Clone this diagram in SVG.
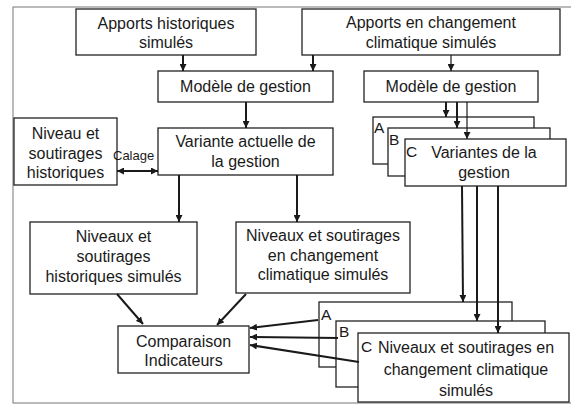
<svg xmlns="http://www.w3.org/2000/svg" width="571" height="405" viewBox="0 0 571 405">
<style>
.box{fill:#fff;stroke:#222;stroke-width:1.3}
.t{font-family:"Liberation Sans",Arial,sans-serif;font-size:16px;fill:#1a1a1a;text-anchor:middle}
.lbl{font-family:"Liberation Sans",Arial,sans-serif;font-size:15.5px;fill:#1a1a1a}
.small{font-family:"Liberation Sans",Arial,sans-serif;font-size:13px;fill:#1a1a1a}
.c{fill:none;stroke:#1a1a1a;stroke-width:2}
.thin{stroke-width:1.2}
.frame{fill:none;stroke:#777;stroke-width:1}
</style>
<defs>
<marker id="ah" viewBox="0 0 10 10" refX="10" refY="5" markerWidth="7" markerHeight="7" markerUnits="userSpaceOnUse" orient="auto-start-reverse">
<path d="M0,0 L10,5 L0,10 z" fill="#1a1a1a"/>
</marker>
</defs>
<rect class="frame" x="13" y="7" width="565" height="396"/>

<g id="apports-hist"><rect class="box" x="76" y="9" width="180" height="46"/>
<text class="t" x="166" y="29">Apports historiques</text><text class="t" x="166" y="48">simulés</text></g>

<g id="apports-cc"><rect class="box" x="302" y="9" width="258" height="46"/>
<text class="t" x="431" y="28">Apports en changement</text><text class="t" x="431" y="48">climatique simulés</text></g>

<g id="modele-gauche"><rect class="box" x="158" y="71" width="175" height="31"/>
<text class="t" x="245.5" y="92">Modèle de gestion</text></g>

<g id="modele-droite"><rect class="box" x="364" y="71" width="174" height="31"/>
<text class="t" x="451" y="92">Modèle de gestion</text></g>

<g id="variante-actuelle"><rect class="box" x="158" y="128" width="175" height="47"/>
<text class="t" x="245.5" y="147">Variante actuelle de</text><text class="t" x="245.5" y="167">la gestion</text></g>

<g id="niveau-hist"><rect class="box" x="14" y="118" width="103" height="67"/>
<text class="t" x="65.5" y="139">Niveau et</text><text class="t" x="65.5" y="159">soutirages</text><text class="t" x="65.5" y="178">historiques</text></g>

<g id="variantes-stack">
<rect class="box" x="373" y="117" width="161" height="47"/>
<text class="lbl" x="374" y="133">A</text>
<rect class="box" x="388" y="128" width="162" height="48"/>
<text class="lbl" x="389" y="145">B</text>
<rect class="box" x="405" y="139" width="161" height="47"/>
<text class="lbl" x="406" y="157">C</text>
<text class="t" x="484" y="158">Variantes de la</text><text class="t" x="484" y="178">gestion</text>
</g>

<g id="niveaux-hist-sim"><rect class="box" x="30" y="222" width="167" height="72"/>
<text class="t" x="113.5" y="242">Niveaux et</text><text class="t" x="113.5" y="262">soutirages</text><text class="t" x="113.5" y="282">historiques simulés</text></g>

<g id="niveaux-cc-sim"><rect class="box" x="236" y="222" width="174" height="71"/>
<text class="t" x="323" y="241">Niveaux et soutirages</text><text class="t" x="323" y="261">en changement</text><text class="t" x="323" y="280">climatique simulés</text></g>

<g id="comparaison"><rect class="box" x="118" y="326" width="131" height="47"/>
<text class="t" x="183.5" y="347">Comparaison</text><text class="t" x="183.5" y="366">Indicateurs</text></g>

<g id="niveaux-stack">
<rect class="box" x="319" y="302" width="193" height="65"/>
<text class="lbl" x="321" y="320">A</text>
<rect class="box" x="336" y="321" width="209" height="66"/>
<text class="lbl" x="339" y="337">B</text>
<rect class="box" x="358" y="333" width="211" height="69"/>
<text class="lbl" x="361" y="352">C</text>
<text class="t" x="466" y="353">Niveaux et soutirages en</text><text class="t" x="466" y="375">changement climatique</text><text class="t" x="466" y="396">simulés</text>
</g>

<g id="connectors">
<line class="c" x1="183" y1="55" x2="183" y2="71" marker-end="url(#ah)"/>
<line class="c" x1="313" y1="55" x2="313" y2="71" marker-end="url(#ah)"/>
<line class="c thin" x1="451" y1="55" x2="451" y2="71" marker-end="url(#ah)"/>
<line class="c" x1="246" y1="102" x2="246" y2="128" marker-end="url(#ah)"/>
<line class="c" x1="117" y1="171" x2="158" y2="171" marker-start="url(#ah)" marker-end="url(#ah)"/>
<text class="small" x="113" y="160">Calage</text>
<line class="c" x1="179" y1="175" x2="179" y2="222" marker-end="url(#ah)"/>
<line class="c" x1="297" y1="175" x2="297" y2="222" marker-end="url(#ah)"/>
<line class="c" x1="446" y1="102" x2="446" y2="117" marker-end="url(#ah)"/>
<line class="c" x1="457" y1="102" x2="457" y2="128" marker-end="url(#ah)"/>
<line class="c thin" x1="467" y1="102" x2="467" y2="139" marker-end="url(#ah)"/>
<line class="c" x1="462" y1="186" x2="463" y2="302" marker-end="url(#ah)"/>
<line class="c" x1="477" y1="186" x2="477" y2="321" marker-end="url(#ah)"/>
<line class="c" x1="498" y1="186" x2="498" y2="333" marker-end="url(#ah)"/>
<line class="c" x1="117" y1="294" x2="143" y2="324" marker-end="url(#ah)"/>
<line class="c" x1="246" y1="294" x2="217" y2="325" marker-end="url(#ah)"/>
<line class="c" x1="318" y1="320" x2="250" y2="328" marker-end="url(#ah)"/>
<line class="c" x1="338" y1="338" x2="250" y2="337" marker-end="url(#ah)"/>
<line class="c" x1="359" y1="362" x2="250" y2="345" marker-end="url(#ah)"/>
</g>
</svg>
